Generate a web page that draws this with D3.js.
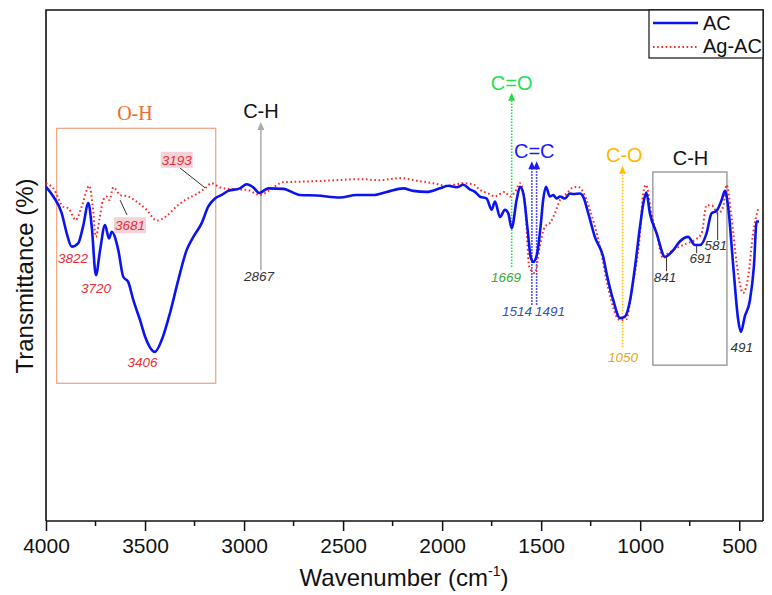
<!DOCTYPE html>
<html><head><meta charset="utf-8">
<script src="https://cdn.jsdelivr.net/npm/d3@7"></script>
<style>body{margin:0;background:#fff}svg{display:block}</style>
</head><body>
<svg id="c" width="772" height="595"></svg>
<script>
// ---- data (wavenumber cm-1, transmittance arbitrary %) ----
const acWave = [4000,3963,3921,3896,3870,3837,3813,3786,3769,3748,3727,3702,3682,3668,3635,3610,3585,3559,3525,3500,3450,3416,3374,3332,3290,3256,3214,3181,3147,3113,3080,3021,2987,2954,2923,2878,2802,2718,2633,2516,2432,2348,2280,2196,2146,2078,2011,1969,1927,1893,1860,1834,1809,1775,1750,1733,1708,1683,1666,1649,1624,1607,1590,1570,1553,1540,1520,1503,1490,1476,1456,1439,1422,1405,1380,1355,1338,1304,1288,1262,1229,1187,1170,1136,1102,1077,1051,1026,1001,981,969,951,917,875,833,800,758,724,698,665,640,614,589,572,556,530,505,492,472,446,426,412,400];
const acT = [65.4,63.5,60.3,56.4,53.7,54.4,57.6,62.2,57.6,48.1,53.0,57.9,55.3,56.6,53.0,47.8,46.8,43.2,39.3,36.1,33.1,35.4,40.7,47.2,53.0,55.6,58.3,61.5,63.1,63.8,64.6,65.1,65.9,65.3,64.2,65.1,65.0,63.8,63.7,63.3,63.8,63.8,64.4,65.1,64.6,64.4,65.1,65.6,65.3,65.8,64.9,64.4,63.5,63.1,60.9,62.5,59.5,60.9,60.2,57.3,62.8,65.4,64.1,57.6,51.7,50.7,52.4,57.6,62.8,65.4,63.5,63.8,63.1,63.5,63.1,64.1,64.0,64.1,63.5,60.2,55.6,51.7,48.5,43.2,39.7,40.0,43.2,49.8,57.6,62.8,64.3,60.2,56.3,51.7,53.0,54.7,55.6,54.0,54.0,56.3,60.2,60.7,62.8,64.6,61.5,49.8,39.3,37.0,40.0,43.2,49.8,58.6,58.6];
const agWave = [4000,3963,3913,3887,3849,3820,3781,3764,3748,3731,3711,3694,3680,3660,3626,3585,3542,3492,3441,3391,3340,3290,3239,3197,3164,3122,3054,2987,2920,2869,2802,2718,2583,2415,2314,2213,2129,2045,1977,1893,1843,1809,1767,1733,1717,1683,1658,1632,1607,1582,1560,1532,1507,1481,1456,1431,1405,1371,1338,1313,1288,1254,1203,1162,1102,1069,1043,1001,985,971,943,916,884,867,816,766,724,690,665,640,606,581,564,539,513,480,455,430,404];
const agT = [66.1,65.1,61.5,61.2,58.9,61.5,65.6,61.5,55.6,58.9,62.8,63.5,62.8,65.3,63.8,63.5,62.5,60.9,58.8,59.7,61.6,63.0,64.0,65.1,66.1,65.3,64.9,64.8,63.8,64.8,66.3,66.4,66.6,66.9,66.7,67.1,66.6,66.1,65.6,66.1,65.9,64.8,64.1,63.5,63.8,64.4,63.5,64.4,66.1,62.2,49.8,48.5,53.7,57.6,58.3,60.2,62.8,64.1,65.3,65.4,64.4,60.9,53.7,45.6,39.3,39.5,45.2,56.3,64.1,65.8,60.2,56.0,51.4,52.1,53.4,54.3,55.0,56.3,61.8,61.8,60.2,61.5,65.8,59.5,50.4,44.6,47.8,56.3,61.2];
const majorTicks = [4000,3500,3000,2500,2000,1500,1000,500];
const minorTicks = [3750,3250,2750,2250,1750,1250,750];
const seriesNames = ["AC","Ag-AC"];
// peak labels: [text, wavenumber, transmittance (baseline)]
const redPeaks = [["3822",3864,50.5],["3720",3748,44.6],["3406",3513,30.1]];
const boxedPeaks = [["3193",3340,69.7,3324,69.1,3197,65.2],["3681",3576,56.9,3591,59.9,3626,62.8]];
const blackPeaks = [["2867",2925,47.0],["491",487,33.1]];
const tickPeaks = [["841",875,46.8,867,51.7,48.9],["691",694,50.5,715,53.8,52.4],["581",618,53.0,609,60.3,55.0]];

// ---- layout ----
const svg = d3.select("#c");
const L=46, R=763, T=10, B=521;
const x = d3.scaleLinear().domain([4000,380]).range([L,R]);
const y = d3.scaleLinear().domain([0,100]).range([B,T]);

// frame
svg.append("path").attr("d",`M${L},${B} L${L},${T} L${R},${T} L${R},${B}`).attr("fill","none").attr("stroke","#111").attr("stroke-width",1.6);

// axis
const ax = svg.append("g").attr("transform",`translate(0,${B})`)
  .call(d3.axisBottom(x).tickValues(majorTicks).tickSize(10).tickPadding(7).tickFormat(d3.format("d")));
ax.select(".domain").attr("stroke","#111").attr("stroke-width",1.6).attr("d",`M${L},0H${R}`);
ax.selectAll(".tick line").attr("stroke","#111").attr("stroke-width",1.5);
ax.selectAll(".tick text").attr("font-family","Liberation Sans, Arial, sans-serif").attr("font-size",21).attr("fill","#111");
svg.append("g").selectAll("line").data(minorTicks).join("line")
  .attr("x1",d=>x(d)).attr("x2",d=>x(d)).attr("y1",B).attr("y2",B+5).attr("stroke","#111").attr("stroke-width",1.5);

// axis titles
const xt = svg.append("text").attr("x",404).attr("y",586).attr("text-anchor","middle")
  .attr("font-family","Liberation Sans, Arial, sans-serif").attr("font-size",24).attr("fill","#111");
xt.append("tspan").text("Wavenumber (cm");
xt.append("tspan").text("-1").attr("font-size",14).attr("dy",-10);
xt.append("tspan").text(")").attr("dy",10);
svg.append("text").attr("transform","translate(33,276) rotate(-90)").attr("text-anchor","middle")
  .attr("font-family","Liberation Sans, Arial, sans-serif").attr("font-size",24).attr("fill","#111").text("Transmittance (%)");

// boxes
function box(w1,w2,t1,t2,color){
  svg.append("rect").attr("x",x(w1)).attr("y",y(t1)).attr("width",x(w2)-x(w1)).attr("height",y(t2)-y(t1))
   .attr("fill","none").attr("stroke",color).attr("stroke-width",1.2);
}
box(3946,3143,76.85,26.95,"#f0a080");
box(936,562,68.3,30.5,"#888");

// arrows (line + upward triangular head)
function arrow(w,t1,t2,color,dash,wid){
  const px=x(w), tip=y(t2);
  svg.append("line").attr("x1",px).attr("x2",px).attr("y1",y(t1)).attr("y2",tip+7)
   .attr("stroke",color).attr("stroke-width",wid||1.5).attr("stroke-dasharray",dash||null);
  svg.append("path").attr("d",`M${px-3.5},${tip+8} L${px},${tip} L${px+3.5},${tip+8} Z`).attr("fill",color);
}
arrow(2915,49.1,78.1,"#aaa",null,1.5);
arrow(1649,49.7,83.8,"#22dd44","1.5,1.5",1.6);
arrow(1547,42.3,70.4,"#1a1aff","1.5,1.5",1.6);
arrow(1523,42.3,70.4,"#1a1aff","1.5,1.5",1.6);
arrow(1089,34.0,69.5,"#ffbf00","1.5,1.5",1.6);

// group labels
function label(txt,w,t,color,size,fam){
  return svg.append("text").attr("x",x(w)).attr("y",y(t)).attr("text-anchor","middle")
   .attr("font-family",fam||"Liberation Sans, Arial, sans-serif").attr("font-size",size).attr("fill",color).text(txt);
}
label("O-H",3551,78.5,"#f26a2a",20,"Liberation Serif, Times New Roman, serif");
label("C-H",2915,78.8,"#111",20);
label("C=O",1649,84.4,"#22e055",20);
label("C=C",1535,71.0,"#1a1aff",20);
label("C-O",1080,70.3,"#ffb800",20);
label("C-H",746,69.7,"#111",20);

// curves
const line = d3.line().x(d=>x(d[0])).y(d=>y(d[1])).curve(d3.curveMonotoneX);
const ag = agWave.map((w,i)=>[w,agT[i]]);
const ac = acWave.map((w,i)=>[w,acT[i]]);
svg.append("path").datum(ag).attr("d",line).attr("fill","none").attr("stroke","#ff2a2a").attr("stroke-width",2).attr("stroke-dasharray","1.6,2.6");
svg.append("path").datum(ac).attr("d",line).attr("fill","none").attr("stroke","#0a14f0").attr("stroke-width",2.6);

// peak labels
const pf = "Liberation Sans, Arial, sans-serif";
function plabel(txt,w,t,color){
  return svg.append("text").attr("x",x(w)).attr("y",y(t)).attr("text-anchor","middle")
   .attr("font-family",pf).attr("font-style","italic").attr("font-size",13.5).attr("fill",color).text(txt);
}
redPeaks.forEach(p=>plabel(p[0],p[1],p[2],"#e8303a"));
boxedPeaks.forEach(p=>{
  svg.append("line").attr("x1",x(p[3])).attr("y1",y(p[4])).attr("x2",x(p[5])).attr("y2",y(p[6])).attr("stroke","#333").attr("stroke-width",1);
  const cx=x(p[1]), by=y(p[2]);
  svg.append("rect").attr("x",cx-16).attr("y",by-13).attr("width",32).attr("height",16).attr("fill","#f2d3d9");
  plabel(p[0],p[1],p[2],"#e8303a");
});
blackPeaks.forEach(p=>plabel(p[0],p[1],p[2],"#333"));
tickPeaks.forEach(p=>{
  svg.append("line").attr("x1",x(p[3])).attr("x2",x(p[3])).attr("y1",y(p[4])).attr("y2",y(p[5])).attr("stroke","#333").attr("stroke-width",1);
  plabel(p[0],p[1],p[2],"#333");
});
plabel("1669",1678,46.8,"#3aa83a");
plabel("1514",1622,40.1,"#3355aa");
plabel("1491",1455,40.1,"#3355aa");
plabel("1050",1087,31.1,"#e0a820");

// legend
const lg = svg.append("g");
lg.append("rect").attr("x",649).attr("y",10).attr("width",114).attr("height",48).attr("fill","#fff").attr("stroke","#111").attr("stroke-width",1.2);
lg.append("line").attr("x1",653).attr("x2",698).attr("y1",23).attr("y2",23).attr("stroke","#0a14f0").attr("stroke-width",2.6);
lg.append("line").attr("x1",653).attr("x2",698).attr("y1",47).attr("y2",47).attr("stroke","#ff2a2a").attr("stroke-width",2).attr("stroke-dasharray","1.6,2.6");
lg.selectAll("text").data(seriesNames).join("text").attr("x",703).attr("y",(d,i)=>30+i*23)
  .attr("font-family","Liberation Sans, Arial, sans-serif").attr("font-size",20).attr("fill","#111").text(d=>d);
</script>
</body></html>
